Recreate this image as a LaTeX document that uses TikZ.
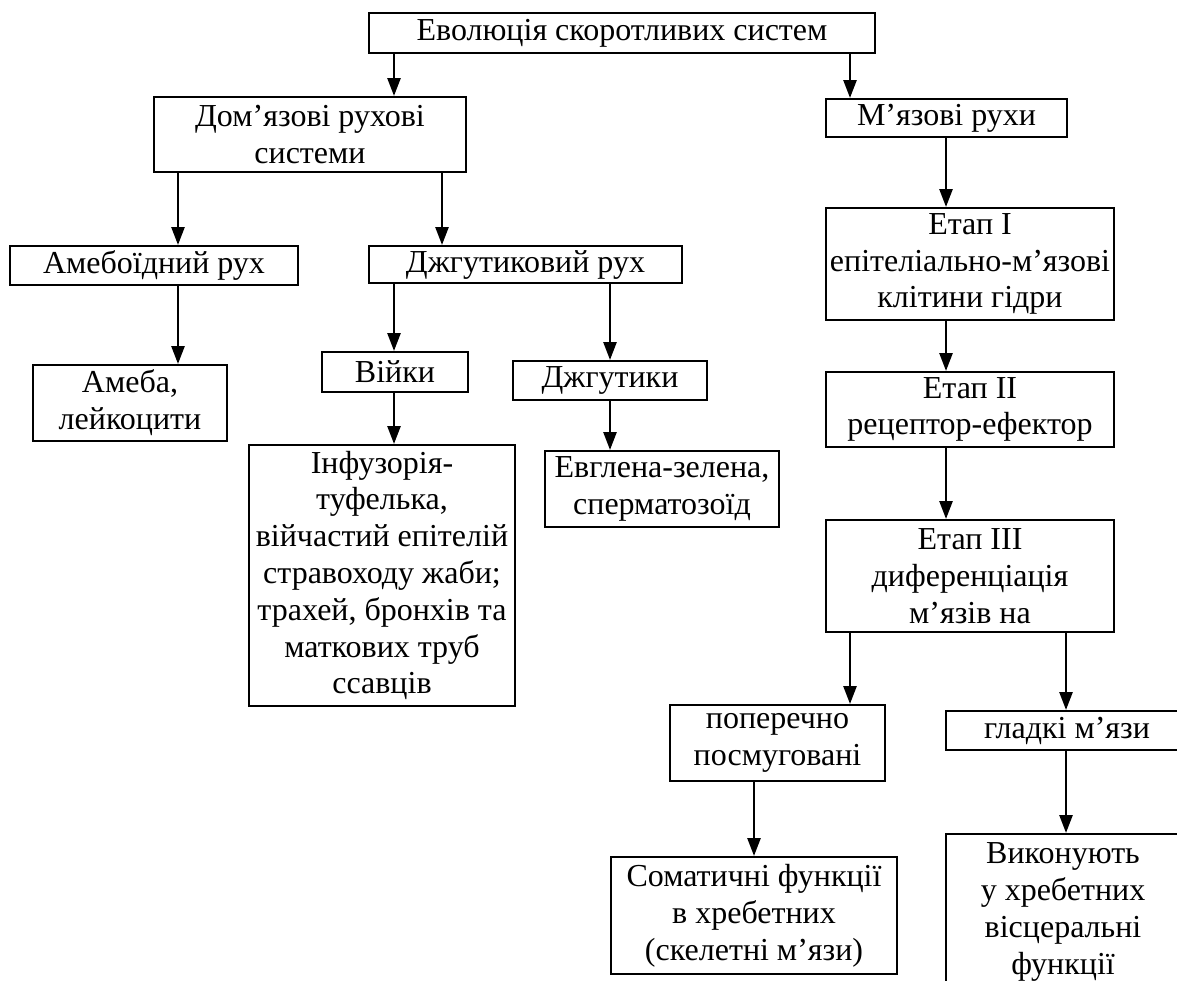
\documentclass[tikz,border=0pt]{standalone}
\usepackage{fontspec}
\setmainfont{Liberation Serif}
\usetikzlibrary{arrows.meta}

\tikzset{
  box/.style={draw=black, line width=2pt, rectangle, inner sep=0pt,
    align=center, font=\fontsize{32}{36.8}\selectfont},
  arr/.style={draw=black, line width=2.6pt,
    -{Triangle[length=18pt,width=13pt]}},
}

\begin{document}
\begin{tikzpicture}[x=1pt,y=-1pt]
  \useasboundingbox (0,0) rectangle (1177,980);
  \clip (0,0) rectangle (1177,980);
  \fill[white] (0,0) rectangle (1177,980);

  % columns along which the arrows run
  \coordinate (xa) at (394,0);
  \coordinate (xb) at (850,0);
  \coordinate (xc) at (178,0);
  \coordinate (xd) at (442,0);
  \coordinate (xe) at (610,0);
  \coordinate (xf) at (946,0);
  \coordinate (xg) at (1066,0);
  \coordinate (xh) at (754,0);

  % boxes
  \node[box, minimum width=506pt, minimum height=40pt] (top) at (622,33)
    {Еволюція скоротливих систем};
  \node[box, minimum width=312pt, minimum height=75pt] (dom) at (310,134.5)
    {Дом’язові рухові\\системи};
  \node[box, minimum width=241pt, minimum height=38pt] (myaz) at (946.5,118)
    {М’язові рухи};
  \node[box, minimum width=288pt, minimum height=39pt] (ameb) at (154,265.5)
    {Амебоїдний рух};
  \node[box, minimum width=313pt, minimum height=37pt] (dzhr) at (525.5,264.5)
    {Джгутиковий рух};
  \node[box, minimum width=194pt, minimum height=76pt] (ameba) at (130,403)
    {Амеба,\\лейкоцити};
  \node[box, minimum width=146pt, minimum height=40pt] (viyky) at (395,372)
    {Війки};
  \node[box, minimum width=194pt, minimum height=39pt] (dzh) at (610,380.5)
    {Джгутики};
  \node[box, minimum width=266pt, minimum height=261pt] (infuz) at (382,575.5)
    {Інфузорія-\\туфелька,\\війчастий епітелій\\стравоходу жаби;\\трахей, бронхів та\\маткових труб\\ссавців};
  \node[box, minimum width=234pt, minimum height=76pt] (evgl) at (662,489)
    {Евглена-зелена,\\сперматозоїд};
  \node[box, minimum width=288pt, minimum height=112pt] (etap1) at (970,264)
    {Етап I\\епітеліально-м’язові\\клітини гідри};
  \node[box, minimum width=288pt, minimum height=75pt] (etap2) at (970,409.5)
    {Етап II\\рецептор-ефектор};
  \node[box, minimum width=288pt, minimum height=112pt] (etap3) at (970,576)
    {Етап III\\диференціація\\м’язів на};
  \node[box, minimum width=215pt, minimum height=76pt] (pop) at (777.5,743)
    {поперечно\\посмуговані};
  \node[box, minimum width=242pt, minimum height=39pt] (glad) at (1067,730.5)
    {гладкі м’язи};
  \node[box, minimum width=286pt, minimum height=117pt] (som) at (754,915.5)
    {Соматичні функції\\в хребетних\\(скелетні м’язи)};
  \node[box, minimum width=234pt, minimum height=156pt] (vyk) at (1063,912)
    {Виконують\\у хребетних\\вісцеральні\\функції};

  % connectors
  \draw[arr] (top.south -| xa) -- (dom.north -| xa);
  \draw[arr] (top.south -| xb) -- (myaz.north -| xb);
  \draw[arr] (dom.south -| xc) -- (ameb.north -| xc);
  \draw[arr] (dom.south -| xd) -- (dzhr.north -| xd);
  \draw[arr] (ameb.south -| xc) -- (ameba.north -| xc);
  \draw[arr] (dzhr.south -| xa) -- (viyky.north -| xa);
  \draw[arr] (dzhr.south -| xe) -- (dzh.north -| xe);
  \draw[arr] (viyky.south -| xa) -- (infuz.north -| xa);
  \draw[arr] (dzh.south -| xe) -- (evgl.north -| xe);
  \draw[arr] (myaz.south -| xf) -- (etap1.north -| xf);
  \draw[arr] (etap1.south -| xf) -- (etap2.north -| xf);
  \draw[arr] (etap2.south -| xf) -- (etap3.north -| xf);
  \draw[arr] (etap3.south -| xb) -- (pop.north -| xb);
  \draw[arr] (etap3.south -| xg) -- (glad.north -| xg);
  \draw[arr] (pop.south -| xh) -- (som.north -| xh);
  \draw[arr] (glad.south -| xg) -- (vyk.north -| xg);
\end{tikzpicture}
\end{document}
